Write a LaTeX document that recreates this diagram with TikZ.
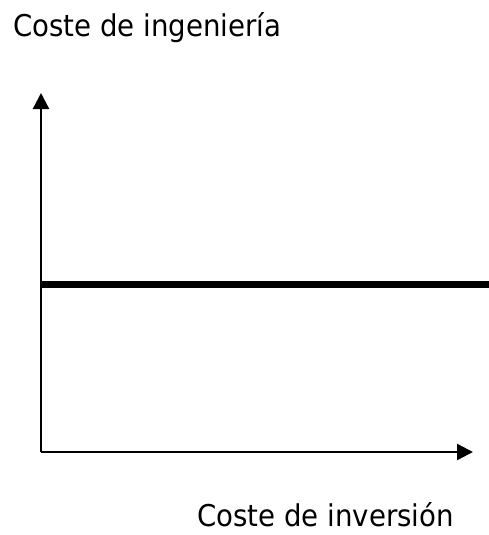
\documentclass[tikz,border=0pt]{standalone}
\usepackage{fontspec}
\setmainfont{DejaVu Sans}
\usetikzlibrary{arrows.meta}
\begin{document}
\begin{tikzpicture}[x=1pt,y=-1pt,
  axis/.style={line width=2.4pt,-{Triangle[length=16pt,width=16pt]}},
  level/.style={line width=7pt},
  lbl/.style={inner sep=0pt,anchor=base west,font=\fontsize{30}{36}\selectfont}]
\useasboundingbox (0,0) rectangle (489,535);
\coordinate (o) at (41,452);
\coordinate (ytip) at (41,93);
\coordinate (xtip) at (473,452);
\coordinate (l0) at (41,284.5);
\coordinate (l1) at (489,284.5);
\draw[axis] (o) -- (ytip);
\draw[axis] (o) -- (xtip);
\draw[level] (l0) -- (l1);
\node[lbl] (yl) at (13,37) {\scalebox{0.92}[1]{Coste de ingeniería}};
\node[lbl] (xl) at (197,526) {\scalebox{0.92}[1]{Coste de inversión}};
\end{tikzpicture}
\end{document}
